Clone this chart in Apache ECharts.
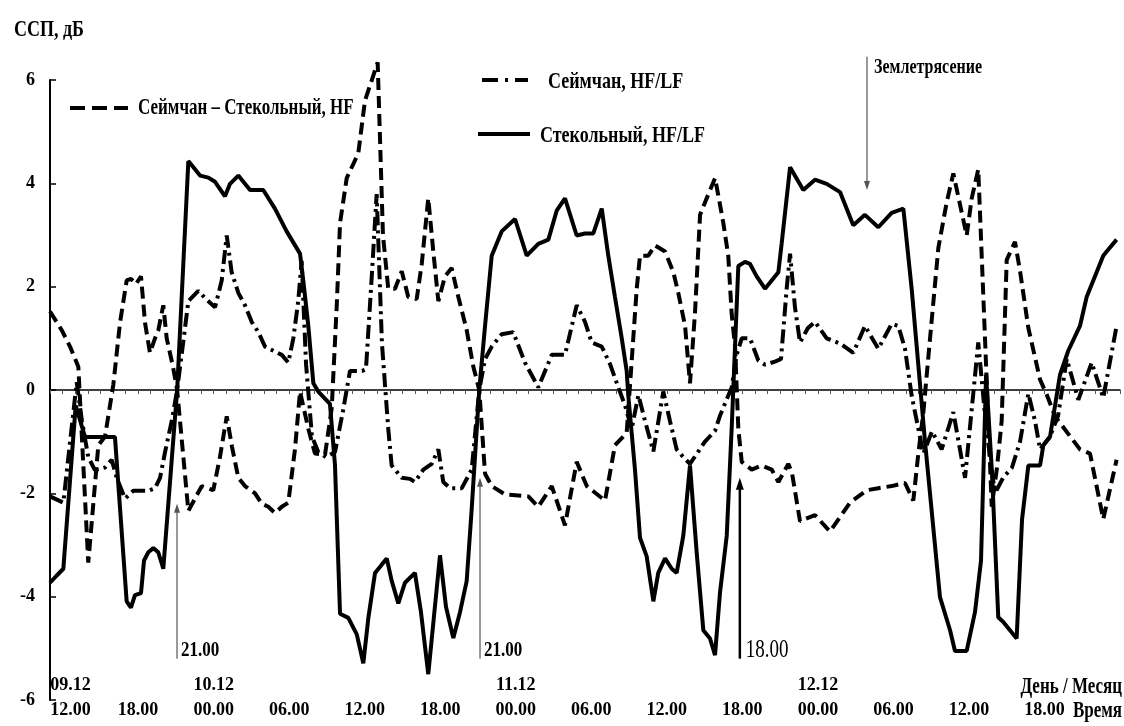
<!DOCTYPE html>
<html><head><meta charset="utf-8">
<script src="https://cdn.jsdelivr.net/npm/echarts@6/dist/echarts.min.js"></script>
<style>html,body{margin:0;padding:0;background:#fff}#c{width:1124px;height:726px}</style>
</head><body><div id="c"></div>
<script>
const FONT = '"Liberation Serif", "Times New Roman", serif';

// x axis: hours counted from 09.12 00:00
const tickHours  = [12, 18, 24, 30, 36, 42, 48, 54, 60, 66, 72, 78, 84, 90];
const timeLabels = ['12.00','18.00','00.00','06.00','12.00','18.00','00.00','06.00','12.00','18.00','00.00','06.00','12.00','18.00'];
const dateLabels = ['09.12','','10.12','','','','11.12','','','','12.12','','',''];

// Сеймчан – Стекольный, HF (dashed)
const diffT = [11.0,11.93,12.59,13.25,14.04,14.84,15.37,16.03,16.56,17.09,17.43,17.83,18.23,18.55,18.94,19.34,19.60,20.00,20.27,20.77,21.1,21.99,23.05,23.97,24.50,25.04,25.46,25.96,26.49,27.29,27.82,28.34,28.87,29.41,29.93,30.46,30.86,31.52,32.05,32.85,33.38,33.78,34.04,34.57,35.49,36.02,37.03,37.45,37.87,38.41,38.94,39.46,40.13,40.53,41.05,41.45,41.85,42.38,42.91,43.44,44.10,44.63,45.1,45.56,46.09,47.15,49.00,49.79,50.86,51.91,52.84,53.64,55.09,55.88,56.81,57.61,57.87,58.53,59.06,59.86,60.52,60.91,61.45,61.84,62.24,62.64,63.03,63.83,64.07,64.49,64.88,65.15,65.42,65.68,65.95,66.74,67.54,68.33,68.86,69.65,69.94,70.58,71.77,72.96,74.55,75.88,76.80,77.86,78.92,79.58,79.98,80.38,80.91,81.57,82.23,82.76,83.82,84.22,84.74,85.81,86.23,86.60,87.00,87.66,88.06,88.72,89.65,90.20,90.84,92.82,93.62,94.67,95.73];
const diffV = [1.52,1.16,0.84,0.45,-3.34,-1.07,-0.9,0.1,1.3,2.12,2.15,2.05,2.2,1.3,0.72,1.0,1.15,1.64,1.0,0.45,0,-2.34,-1.86,-1.94,-1.3,-0.51,-1.1,-1.7,-1.86,-2.0,-2.2,-2.26,-2.38,-2.26,-2.18,-1.15,-0.03,-0.75,-1.23,-1.25,-0.35,1.64,3.23,4.1,4.58,5.6,6.34,3.0,1.96,1.96,2.3,1.8,1.76,2.44,3.71,2.68,1.72,2.2,2.36,1.8,1.16,0.45,0,-1.62,-1.86,-2.02,-2.06,-2.26,-1.86,-2.62,-1.39,-1.86,-2.14,-1.07,-0.83,1.96,2.6,2.6,2.8,2.68,2.28,1.88,1.24,0.13,1.5,3.39,3.63,4.1,3.79,3.23,2.6,1.48,0.84,-0.75,-1.39,-1.54,-1.46,-1.54,-1.78,-1.43,-1.6,-2.54,-2.42,-2.74,-2.18,-1.94,-1.9,-1.86,-1.8,-2.14,-1.23,-0.43,1.0,2.75,3.63,4.19,2.99,3.71,4.27,-2.26,-1.5,-0.6,2.52,2.87,2.3,1.2,0.2,-0.1,-0.51,-1.15,-1.23,-2.5,-1.35];

// Сеймчан, HF/LF (dash-dot)
const seimT = [11.0,12.06,13.12,13.54,14.04,14.57,15.37,15.90,16.30,16.96,17.62,18.81,19.34,19.74,20.14,20.67,21.1,21.57,21.99,22.78,23.31,24.11,24.64,25.04,25.43,25.96,26.49,27.02,27.55,28.08,28.74,29.41,29.93,30.33,30.72,30.99,31.34,31.81,32.31,32.93,33.64,34.28,34.83,35.79,36.10,36.56,36.95,37.37,37.87,38.14,38.94,39.60,39.99,40.66,41.32,41.85,42.24,42.78,43.71,44.50,45.1,45.56,46.09,46.88,47.80,48.73,49.79,50.86,51.91,52.84,53.50,54.03,54.83,55.49,56.15,56.68,57.21,57.74,58.27,58.93,59.72,60.25,60.78,61.31,61.84,63.03,63.83,64.22,65.15,65.55,65.95,66.61,67.27,67.80,68.59,69.07,69.52,69.79,70.18,70.58,71.21,71.77,72.70,73.76,74.81,75.74,76.80,77.86,78.39,78.92,79.45,80.38,81.07,81.83,82.76,83.69,84.74,85.28,85.67,86.07,86.71,87.42,88.06,88.72,89.25,89.65,90.44,91.08,91.77,92.69,93.75,94.67,95.73];
const seimV = [-2.06,-2.18,0.15,-0.6,-1.3,-1.55,-1.5,-1.35,-1.7,-2.1,-1.95,-1.95,-1.9,-1.7,-1.2,-0.6,0,0.9,1.72,1.92,1.78,1.6,2.12,2.99,2.28,1.88,1.64,1.32,1.12,0.84,0.76,0.68,0.53,1.0,1.72,2.5,0.5,-0.9,-1.2,-1.3,-1.2,-0.4,0.37,0.37,0.4,2.2,3.79,0.9,-0.75,-1.46,-1.7,-1.72,-1.78,-1.54,-1.43,-1.15,-1.78,-1.9,-1.9,-1.54,0,0.6,0.84,1.08,1.12,0.53,0.05,0.68,0.68,1.64,1.32,0.92,0.84,0.5,0.05,-0.3,-0.75,-0.1,-0.6,-1.19,-0.03,-0.6,-1.15,-1.3,-1.43,-1.0,-0.79,-0.5,0.05,0.68,1.0,1.0,0.57,0.49,0.55,0.6,1.96,2.64,1.6,0.92,1.2,1.32,1.0,0.9,0.72,1.24,0.8,1.28,1.24,0.8,-0.11,-1.23,-0.8,-1.15,-0.43,-1.7,0.92,-0.5,-1.3,-2.0,-1.7,-1.5,-1.0,-0.07,-0.6,-1.15,-0.9,-0.5,0.6,-0.19,0.53,-0.15,1.24];

// Стекольный, HF/LF (solid)
const stekT = [11.0,11.5,12.06,13.04,13.78,16.16,17.09,17.43,17.75,18.23,18.47,18.81,19.21,19.60,20.00,21.1,21.99,22.92,23.58,24.11,24.90,25.30,25.96,26.89,27.94,28.87,29.80,30.86,31.12,31.52,31.92,32.31,33.24,33.64,34.04,34.70,35.37,35.89,36.29,36.82,37.35,37.75,38.14,38.67,39.20,39.99,40.47,41.05,41.98,42.46,43.04,43.57,44.10,44.50,44.90,45.1,45.56,46.09,46.88,47.94,48.87,49.79,50.59,51.25,51.91,52.84,53.50,54.16,54.83,55.35,55.88,56.42,56.81,56.94,57.47,57.87,58.40,58.93,59.32,59.86,60.39,60.78,61.31,61.84,62.37,62.90,63.43,63.83,64.22,64.76,65.15,65.68,66.21,66.61,67.14,67.80,68.20,68.86,69.12,69.79,70.84,71.77,72.70,73.76,74.81,75.74,76.80,77.86,78.79,79.45,80.51,81.70,82.50,82.89,83.82,84.48,84.96,85.36,85.83,86.33,86.73,87.79,88.22,88.72,89.65,89.91,90.44,91.23,91.89,92.82,93.35,94.67,94.94,95.73];
const stekV = [-3.73,-3.6,-3.46,-0.3,-0.91,-0.91,-4.09,-4.21,-3.97,-3.93,-3.3,-3.14,-3.06,-3.14,-3.46,0,4.43,4.15,4.11,4.03,3.75,3.99,4.15,3.87,3.87,3.51,3.07,2.64,2.12,1.24,0.13,-0.03,-0.27,-1.46,-4.33,-4.41,-4.73,-5.29,-4.41,-3.54,-3.38,-3.26,-3.69,-4.13,-3.73,-3.54,-4.3,-5.5,-3.2,-4.2,-4.8,-4.3,-3.7,-2.3,-0.75,0,1.24,2.6,3.07,3.31,2.6,2.83,2.91,3.47,3.71,2.99,3.03,3.03,3.51,2.6,1.8,1.0,0.37,-0.11,-1.54,-2.86,-3.22,-4.09,-3.54,-3.26,-3.46,-3.54,-2.82,-1.46,-3.14,-4.65,-4.81,-5.13,-3.93,-2.82,-0.75,2.4,2.48,2.44,2.2,1.96,2.08,2.28,2.83,4.31,3.87,4.07,3.99,3.83,3.19,3.39,3.15,3.43,3.51,1.96,-1.0,-4.01,-4.65,-5.05,-5.05,-4.3,-3.3,0.3,-1.6,-4.4,-4.49,-4.81,-2.5,-1.46,-1.46,-1.07,-0.91,0.29,0.76,1.24,1.8,2.6,2.68,2.91];

// annotations
const markerHours  = [21.09, 45.16, 65.8];
const markerLabels = ['21.00', '21.00', '18.00'];
const quakeHour = 75.9;

function zip(t, v) { return t.map((x, i) => [x, v[i]]); }

const chart = echarts.init(document.getElementById('c'), null, {renderer: 'canvas'});

const lbl = {fontFamily: FONT, fontWeight: 'bold', fontSize: 18, color: '#000'};

chart.setOption({
  animation: false,
  backgroundColor: '#fff',
  grid: {left: 50, right: 4, top: 80, bottom: 26, containLabel: false},
  xAxis: [{
    type: 'value', min: 11, max: 96, interval: 1, position: 'bottom',
    axisLine: {show: false, onZero: false},
    axisTick: {show: false},
    splitLine: {show: false},
    axisLabel: {
      margin: -29,
      formatter: function (v) {
        const i = tickHours.indexOf(v);
        if (i < 0) return '';
        const s = i === 0 ? '0' : '';
        return '{d' + s + '|' + (dateLabels[i] || ' ') + '}\n{t' + s + '|' + timeLabels[i] + '}';
      },
      rich: {
        d: Object.assign({lineHeight: 28}, lbl),
        t: Object.assign({lineHeight: 22}, lbl),
        d0: Object.assign({lineHeight: 28, padding: [0, 0, 0, 16]}, lbl),
        t0: Object.assign({lineHeight: 22, padding: [0, 0, 0, 16]}, lbl)
      }
    }
  }, {
    type: 'value', min: 11, max: 96, interval: 1, position: 'top',
    axisLine: {show: true, onZero: true, onZeroAxisIndex: 0, lineStyle: {color: '#000', width: 1.5}},
    axisTick: {show: true, inside: true, length: 4, lineStyle: {color: '#555', width: 1}},
    axisLabel: {show: false},
    splitLine: {show: false}
  }],
  yAxis: {
    type: 'value', min: -6, max: 6, interval: 2,
    axisLine: {show: true, onZero: false, lineStyle: {color: '#000', width: 2}},
    axisTick: {show: true, inside: true, length: 6, lineStyle: {color: '#000', width: 1.5}},
    axisLabel: Object.assign({margin: 15}, lbl),
    splitLine: {show: false}
  },
  series: [{
    name: 'Сеймчан – Стекольный, HF', type: 'line', xAxisIndex: 0, clip: false,
    data: zip(diffT, diffV), symbol: 'none',
    lineStyle: {color: '#000', width: 4, type: [12, 6]}
  }, {
    name: 'Сеймчан, HF/LF', type: 'line', xAxisIndex: 0, clip: false,
    data: zip(seimT, seimV), symbol: 'none',
    lineStyle: {color: '#000', width: 4, type: [14, 5, 3, 5]}
  }, {
    name: 'Стекольный, HF/LF', type: 'line', xAxisIndex: 0, clip: false,
    data: zip(stekT, stekV), symbol: 'none',
    lineStyle: {color: '#000', width: 4}
  }]
});

function txt(x, y, s, size, extra) {
  extra = extra || {};
  return {
    type: 'text', x: x, y: y, scaleY: extra.sy || 1.3, z: 50,
    style: {
      text: s, fill: '#000',
      font: (extra.weight || 'bold') + ' ' + size + 'px ' + FONT,
      textAlign: extra.align || 'left', textVerticalAlign: 'middle'
    }
  };
}
function seg(x1, y1, x2, y2, w, color, dash) {
  return {type: 'line', z: 40, shape: {x1: x1, y1: y1, x2: x2, y2: y2},
    style: {stroke: color, lineWidth: w, lineDash: dash || null}};
}
function tri(x, y, dir, half, len, color) {
  // dir: -1 points up (tip at y), 1 points down
  return {type: 'polygon', z: 41,
    shape: {points: [[x, y], [x - half, y - dir * len], [x + half, y - dir * len]]},
    style: {fill: color}};
}

const P = (h, v) => chart.convertToPixel({xAxisIndex: 0, yAxisIndex: 0}, [h, v]);
const g = [];
// title
g.push(txt(14, 30, 'ССП, дБ', 18));
// legend
g.push(seg(70, 108, 128, 108, 4, '#000', [15, 7]));
g.push(txt(138, 108, 'Сеймчан – Стекольный, HF', 17));
g.push(seg(482, 80, 528, 80, 4, '#000', [16, 7, 3, 7]));
g.push(txt(548, 82, 'Сеймчан, HF/LF', 18));
g.push(seg(478, 134, 530, 134, 4, '#000'));
g.push(txt(540, 136, 'Стекольный, HF/LF', 18));

// vertical time markers
const tops = [-2.2, -1.7, -1.7];
for (let i = 0; i < markerHours.length; i++) {
  const a = P(markerHours[i], tops[i]);
  const b = P(markerHours[i], -5.2);
  const big = i === 2;
  const col = big ? '#000' : '#555';
  g.push(seg(a[0], a[1] + 6, a[0], b[1], big ? 2.5 : 1.2, col));
  g.push(tri(a[0], a[1], -1, big ? 4 : 3, big ? 12 : 9, col));
  g.push(txt(a[0] + (big ? 6 : 4), b[1] - 8, markerLabels[i], big ? 19 : 17,
    {weight: big ? 'normal' : 'bold', sy: big ? 1.35 : 1.25}));
}
// earthquake
const q1 = P(quakeHour, 6.45), q2 = P(quakeHour, 3.87);
g.push(seg(q1[0], q1[1], q1[0], q2[1] - 6, 1.2, '#555'));
g.push(tri(q1[0], q2[1], 1, 3, 9, '#555'));
g.push(txt(q1[0] + 7, 68, 'Землетрясение', 16));

// axis captions
g.push(txt(1122, 687, 'День / Месяц', 17, {align: 'right'}));
g.push(txt(1122, 711, 'Время', 17, {align: 'right'}));

chart.setOption({graphic: g});
</script></body></html>
